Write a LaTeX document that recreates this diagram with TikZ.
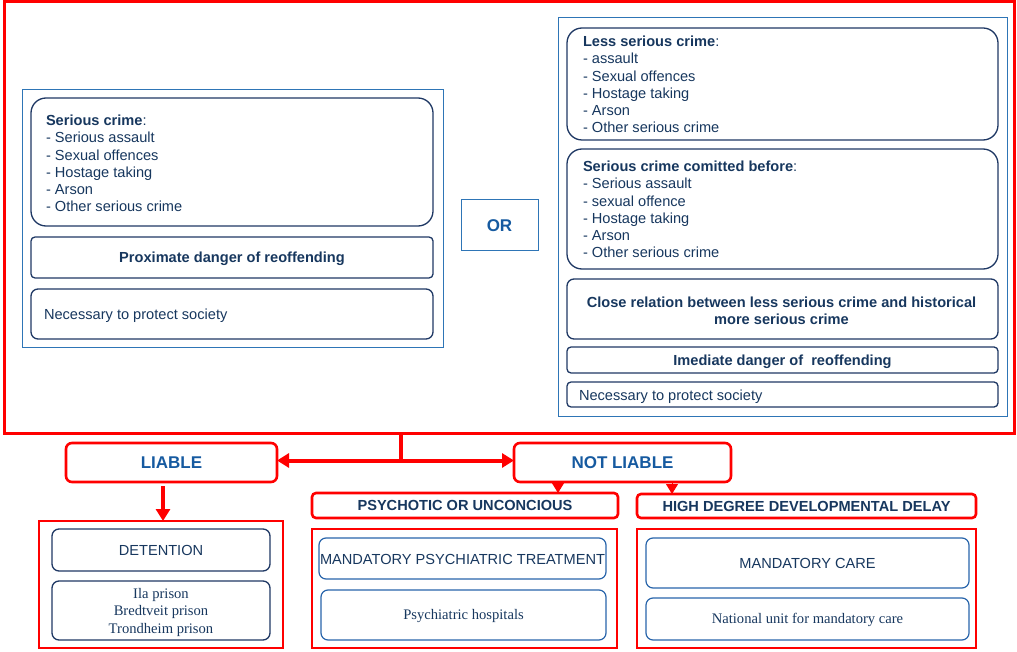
\documentclass[tikz,border=0pt]{standalone}
\usepackage{fontspec}
\setmainfont{Liberation Sans}
\newfontfamily\serifface{Liberation Serif}
\usetikzlibrary{arrows.meta}
\definecolor{myred}{RGB}{255,0,0}
\definecolor{navy}{RGB}{31,56,100}
\definecolor{navytext}{RGB}{23,55,94}
\definecolor{oblue}{RGB}{46,117,182}
\definecolor{ltext}{RGB}{22,90,160}
\definecolor{mblue}{RGB}{40,100,170}
\begin{document}
\begin{tikzpicture}[x=1pt,y=-1pt,
  every node/.style={inner sep=0pt, outer sep=0pt},
  txt/.style={font={\fontsize{14.6}{17.3}\selectfont}, text=navytext},
  btxt/.style={font={\fontsize{14.6}{17.3}\selectfont\bfseries}, text=navytext},
  stxt/.style={font={\serifface\fontsize{14.6}{17.5}\selectfont}, text=navytext},
  bigtxt/.style={font={\fontsize{17}{20}\selectfont\bfseries}, text=ltext},
  oneline/.style={text height=10.4pt, text depth=0pt},
  bigline/.style={text height=12.2pt, text depth=0pt},
  serline/.style={text height=9.7pt, text depth=0pt},
  mainbox/.style={draw=myred, line width=3pt},
  redcont/.style={draw=myred, line width=2.6pt},
  redround/.style={draw=myred, line width=2.6pt, rounded corners=6pt},
  redsmall/.style={draw=myred, line width=2.6pt, rounded corners=4pt},
  outerblue/.style={draw=oblue, line width=1pt},
  navybig/.style={draw=navy, line width=1.3pt, rounded corners=15pt},
  navymid/.style={draw=navy, line width=1.3pt, rounded corners=7pt},
  navysmall/.style={draw=navy, line width=1.3pt, rounded corners=4pt},
  bluemid/.style={draw=mblue, line width=1.2pt, rounded corners=7pt},
  redline/.style={draw=myred, line width=4.5pt},
  redarrow/.style={draw=myred, line width=4pt, -{Triangle[length=12pt,width=14pt]}},
  smallarrow/.style={draw=myred, line width=1pt, -{Triangle[length=10pt,width=12pt]}}
]
\useasboundingbox (0,0) rectangle (1017,652);

% main red box
\node[mainbox, minimum width=1010pt, minimum height=431pt] (main) at (509,217.5) {};

% left group
\node[outerblue, minimum width=421pt, minimum height=257pt] (lgroup) at (232.5,218.5) {};
\node[navybig, minimum width=402pt, minimum height=128pt] (serious) at (232,162) {};
\node[txt, anchor=north west, align=left] (seriouslist) at (46,114.5)
  {\rule{0pt}{11pt}\textbf{Serious crime}:\\- Serious assault\\- Sexual offences\\- Hostage taking\\- Arson\\- Other serious crime};
\node[navysmall, btxt, oneline, minimum width=402pt, minimum height=41pt] (proximate) at (232,257.5) {Proximate danger of reoffending};
\node[navymid, minimum width=402pt, minimum height=50pt] (necl) at (232,314) {};
\node[txt, oneline, anchor=west] (necltxt) at (44,314) {Necessary to protect society};

% OR
\node[outerblue, bigtxt, bigline, minimum width=77pt, minimum height=51pt] (or) at (499.5,225.5) {OR};

% right group
\node[outerblue, minimum width=449pt, minimum height=398pt] (rgroup) at (782.5,217) {};
\node[navybig, minimum width=431pt, minimum height=112pt] (less) at (782.5,84) {};
\node[txt, anchor=north west, align=left] (lesslist) at (583,35.5)
  {\rule{0pt}{11pt}\textbf{Less serious crime}:\\- assault\\- Sexual offences\\- Hostage taking\\- Arson\\- Other serious crime};
\node[navybig, minimum width=431pt, minimum height=120pt] (before) at (782.5,209) {};
\node[txt, anchor=north west, align=left] (beforelist) at (583,160.5)
  {\rule{0pt}{11pt}\textbf{Serious crime comitted before}:\\- Serious assault\\- sexual offence\\- Hostage taking\\- Arson\\- Other serious crime};
\node[navymid, minimum width=431pt, minimum height=60pt] (close) at (782.5,309) {};
\node[btxt, align=center] (closetxt) at (781.5,310.5)
  {Close relation between less serious crime and historical\\more serious crime};
\node[navysmall, btxt, oneline, minimum width=431pt, minimum height=26pt] (imediate) at (782.5,360) {Imediate danger of \ reoffending};
\node[navysmall, minimum width=431pt, minimum height=25pt] (necr) at (782.5,394.5) {};
\node[txt, oneline, anchor=west] (necrtxt) at (579,395) {Necessary to protect society};

% liable / not liable
\node[redround, bigtxt, bigline, minimum width=211pt, minimum height=39pt] (liable) at (171.5,462.5) {LIABLE};
\node[redround, bigtxt, bigline, minimum width=217pt, minimum height=39pt] (notliable) at (622.5,462.5) {NOT LIABLE};

\coordinate (jtop) at (401,433);
\coordinate (jmid) at (401,460.5);
\draw[redline] (jtop) -- (jmid);
\draw[redarrow] (jmid) -- (liable.east |- jmid);
\draw[redarrow] (jmid) -- (notliable.west |- jmid);

% categories
\node[redsmall, btxt, oneline, minimum width=306pt, minimum height=25pt] (psych) at (465,505.5) {PSYCHOTIC OR UNCONCIOUS};
\node[redsmall, btxt, oneline, minimum width=339pt, minimum height=24pt] (high) at (806.5,506) {HIGH DEGREE DEVELOPMENTAL DELAY};

\draw[smallarrow] (notliable.south -| 558,0) -- (psych.north -| 558,0);
\draw[smallarrow] (notliable.south -| 672,0) -- (high.north -| 672,0);

% containers
\node[redcont, minimum width=244pt, minimum height=127pt] (lcont) at (161,584.5) {};
\node[redcont, minimum width=305pt, minimum height=119pt] (mcont) at (464.5,588.5) {};
\node[redcont, minimum width=339pt, minimum height=119pt] (rcont) at (806.5,588.5) {};

\coordinate (lstart) at (163,486);
\draw[redarrow] (lstart) -- (lcont.north -| lstart);

\node[navymid, txt, oneline, minimum width=218pt, minimum height=42pt] (detention) at (161,550) {DETENTION};
\node[navymid, minimum width=218pt, minimum height=59pt] (prisons) at (161,610.5) {};
\node[stxt, align=center] (prisontxt) at (161,612)
  {Ila prison\\Bredtveit prison\\Trondheim prison};

\node[bluemid, minimum width=287pt, minimum height=41pt] (mpt) at (462.5,558.5) {};
\node[txt, oneline] (mpttxt) at (462.5,559) {MANDATORY PSYCHIATRIC TREATMENT};
\node[bluemid, stxt, serline, minimum width=285pt, minimum height=50pt] (hosp) at (463.5,615) {Psychiatric hospitals};

\node[bluemid, txt, oneline, minimum width=323pt, minimum height=50pt] (mcare) at (807.5,563) {MANDATORY CARE};
\node[bluemid, stxt, serline, minimum width=323pt, minimum height=42pt] (natunit) at (807.5,619) {National unit for mandatory care};
\end{tikzpicture}
\end{document}
